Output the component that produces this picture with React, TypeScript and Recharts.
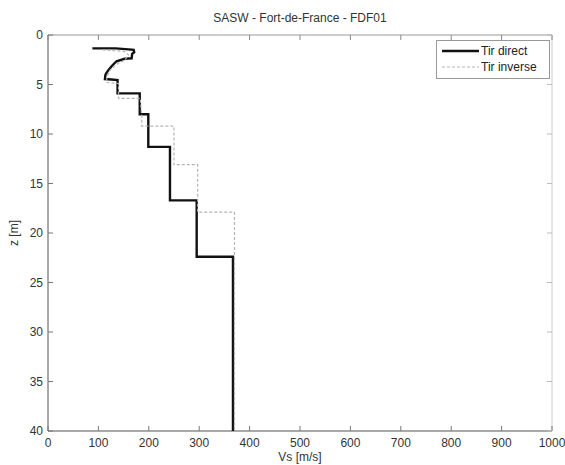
import React from 'react';
import { ScatterChart, Scatter, XAxis, YAxis, Legend } from 'recharts';

// Vs profile (Vs in m/s, z in m), points in drawing order
const directVs = [88, 134, 160, 170, 171, 167, 166, 152, 136, 127, 119, 114, 113, 126, 138, 138, 182, 182, 199, 199, 242, 242, 295, 295, 367, 367];
const directZ = [1.35, 1.35, 1.45, 1.5, 1.75, 1.9, 2.35, 2.4, 2.65, 3.1, 3.6, 4.0, 4.45, 4.5, 4.55, 5.9, 5.9, 8.0, 8.0, 11.3, 11.3, 16.7, 16.7, 22.4, 22.4, 40];

const inverseVs = [108, 150, 160, 152, 138, 124, 117, 116, 140, 140, 183, 186, 186, 250, 250, 297, 297, 370, 370];
const inverseZ = [1.5, 1.65, 2.0, 2.55, 2.9, 3.5, 4.2, 4.8, 4.9, 6.4, 6.4, 8.2, 9.2, 9.2, 13.1, 13.1, 17.9, 17.9, 40];

const vsTicks = [0, 100, 200, 300, 400, 500, 600, 700, 800, 900, 1000];
const zTicks = [0, 5, 10, 15, 20, 25, 30, 35, 40];

const toPoints = (vs: number[], z: number[]) => vs.map((v, i) => ({ vs: v, z: z[i] }));

const series = [
  { name: 'Tir direct', data: toPoints(directVs, directZ), stroke: '#111', width: 2.4, dash: undefined },
  { name: 'Tir inverse', data: toPoints(inverseVs, inverseZ), stroke: '#b4b4b4', width: 1.2, dash: '3 2' },
];

const FONT = '"Liberation Sans", Arial, Helvetica, sans-serif';
const TICK_LEN = 5;
const GAP = 4;

const BottomTick = ({ x, y, payload }: any) => {
  const axisY = y - GAP;
  return (
    <g>
      <line x1={x} x2={x} y1={axisY} y2={axisY - TICK_LEN} stroke="#777" />
      <text x={x} y={axisY + 16} textAnchor="middle" fontSize={12} fill="#333" fontFamily={FONT}>
        {payload.value}
      </text>
    </g>
  );
};

const LeftTick = ({ x, y, payload }: any) => {
  const axisX = x + GAP;
  return (
    <g>
      <line x1={axisX} x2={axisX + TICK_LEN} y1={y} y2={y} stroke="#777" />
      <text x={axisX - 5} y={y + 4} textAnchor="end" fontSize={12} fill="#333" fontFamily={FONT}>
        {payload.value}
      </text>
    </g>
  );
};

const TopTick = ({ x, y }: any) => {
  const axisY = y + GAP;
  return <line x1={x} x2={x} y1={axisY} y2={axisY + TICK_LEN} stroke="#888" />;
};

const RightTick = ({ x, y }: any) => {
  const axisX = x - GAP;
  return <line x1={axisX} x2={axisX - TICK_LEN} y1={y} y2={y} stroke="#bbb" />;
};

const noDot = () => <g />;

const LegendBox = () => (
  <div style={{ border: '1px solid #999', background: '#fff', width: 112, padding: '2px 0 3px 0', fontFamily: FONT, fontSize: 12, color: '#222' }}>
    {series.map((s) => (
      <div key={s.name} style={{ display: 'flex', alignItems: 'center', height: 16 }}>
        <svg width={44} height={16}>
          <line x1={5} x2={42} y1={8} y2={8} stroke={s.stroke} strokeWidth={s.width} strokeDasharray={s.dash} />
        </svg>
        <span>{s.name}</span>
      </div>
    ))}
  </div>
);

export default function App() {
  return (
    <div style={{ position: 'fixed', left: 0, top: 0, width: 565, height: 465, background: '#fff' }}>
      <div
        style={{
          position: 'absolute',
          left: 48,
          width: 504,
          top: 11,
          textAlign: 'center',
          fontFamily: FONT,
          fontSize: 12,
          color: '#333',
        }}
      >
        SASW - Fort-de-France - FDF01
      </div>
      <ScatterChart width={565} height={465} margin={{ top: 34, right: 12, bottom: 4, left: 18 }}>
        <XAxis
          xAxisId="b"
          type="number"
          dataKey="vs"
          domain={[0, 1000]}
          ticks={vsTicks}
          interval={0}
          orientation="bottom"
          height={30}
          tickSize={0}
          tickMargin={GAP}
          tickLine={false}
          tick={BottomTick}
          axisLine={{ stroke: '#555' }}
          allowDataOverflow
          label={{ value: 'Vs [m/s]', position: 'insideBottom', offset: 0, style: { fontSize: 12, fill: '#333', fontFamily: FONT } }}
        />
        <XAxis
          xAxisId="t"
          type="number"
          dataKey="vs"
          domain={[0, 1000]}
          ticks={vsTicks}
          interval={0}
          orientation="top"
          height={1}
          tickSize={0}
          tickMargin={GAP}
          tickLine={false}
          tick={TopTick}
          axisLine={{ stroke: '#999' }}
          allowDataOverflow
        />
        <YAxis
          yAxisId="l"
          type="number"
          dataKey="z"
          domain={[0, 40]}
          ticks={zTicks}
          interval={0}
          reversed
          width={30}
          tickSize={0}
          tickMargin={GAP}
          tickLine={false}
          tick={LeftTick}
          axisLine={{ stroke: '#555' }}
          allowDataOverflow
          label={{ value: 'z [m]', angle: -90, position: 'insideLeft', offset: -4, style: { textAnchor: 'middle', fontSize: 12, fill: '#333', fontFamily: FONT } }}
        />
        <YAxis
          yAxisId="r"
          type="number"
          dataKey="z"
          domain={[0, 40]}
          ticks={zTicks}
          interval={0}
          reversed
          orientation="right"
          width={1}
          tickSize={0}
          tickMargin={GAP}
          tickLine={false}
          tick={RightTick}
          axisLine={{ stroke: '#ccc' }}
          allowDataOverflow
        />
        {series.map((s) => (
          <Scatter
            key={s.name}
            name={s.name}
            data={s.data}
            xAxisId="b"
            yAxisId="l"
            fill="none"
            shape={noDot}
            line={{ stroke: s.stroke, strokeWidth: s.width, strokeDasharray: s.dash, fill: 'none' }}
            isAnimationActive={false}
          />
        ))}
        <Legend
          content={LegendBox}
          layout="horizontal"
          verticalAlign="middle"
          align="center"
          wrapperStyle={{ position: 'absolute', left: 436, top: 40, width: 'auto', height: 'auto' }}
        />
      </ScatterChart>
    </div>
  );
}
